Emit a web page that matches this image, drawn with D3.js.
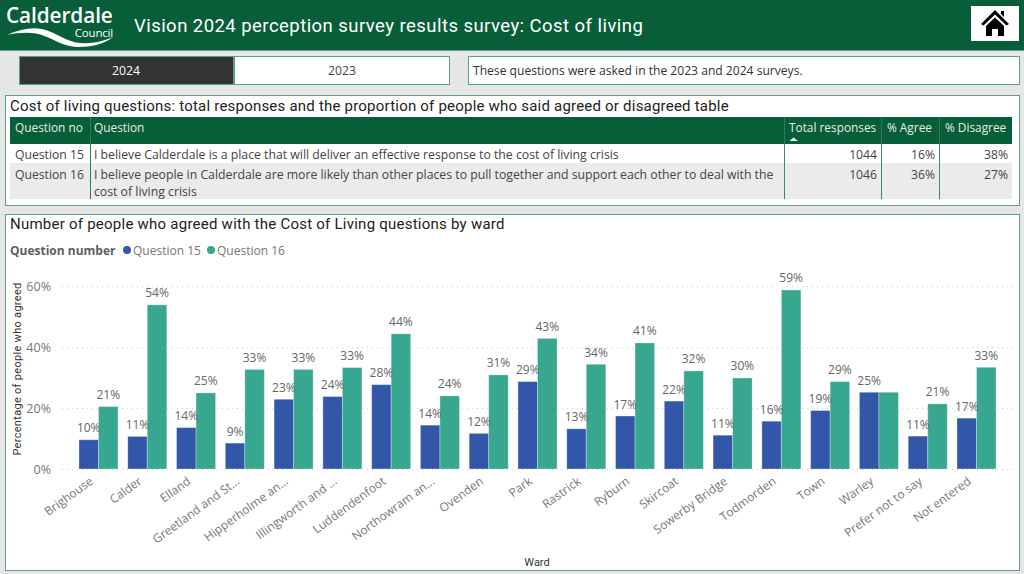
<!DOCTYPE html>
<html>
<head>
<meta charset="utf-8">
<script src="https://cdn.jsdelivr.net/npm/d3@7"></script>
<style>
  html, body { margin: 0; padding: 0; background: #e6e6e6; overflow: hidden; }
  svg { display: block; }
  text { font-family: "Open Sans", sans-serif; }
  .din { font-family: Roboto, sans-serif; }
</style>
</head>
<body>
<svg id="canvas"></svg>
<script>
let wards = ["Brighouse", "Calder", "Elland", "Greetland and St...", "Hipperholme an...", "Illingworth and ...",
    "Luddendenfoot", "Northowram an...", "Ovenden", "Park", "Rastrick", "Ryburn", "Skircoat", "Sowerby Bridge",
    "Todmorden", "Town", "Warley", "Prefer not to say", "Not entered"];
let question15 = [9.6, 10.7, 13.6, 8.5, 22.9, 23.8, 27.7, 14.4, 11.7, 28.7, 13.2, 17.4, 22.3, 11.1, 15.7, 19.2, 25.2, 10.8, 16.7];
let question16 = [20.5, 53.9, 25, 32.7, 32.7, 33.3, 44.4, 24, 30.9, 42.9, 34.4, 41.4, 32.2, 29.9, 58.8, 28.7, 25.2, 21.4, 33.4];
let seriesNames = ["Question 15", "Question 16"];
let yTicks = [0, 20, 40, 60];

let tableColumns = ["Question no", "Question", "Total responses", "% Agree", "% Disagree"];
let questionNumbers = ["Question 15", "Question 16"];
let questionLines = [
    ["I believe Calderdale is a place that will deliver an effective response to the cost of living crisis"],
    ["I believe people in Calderdale are more likely than other places to pull together and support each other to deal with the", "cost of living crisis"]
];
let totalResponses = [1044, 1046];
let percentAgree = ["16%", "36%"];
let percentDisagree = ["38%", "27%"];

let width = 1024;
let height = 574;
let darkGreen = "#075e38";
let panelBorder = "#5f9e86";
let colors = ["#3257a8", "#37a78f"];

let canvas = d3.select("#canvas").attr("width", width).attr("height", height);

let box = (x, y, w, h, fill, stroke) => canvas.append("rect")
    .attr("x", x).attr("y", y).attr("width", w).attr("height", h)
    .attr("fill", fill).attr("stroke", stroke || "none");

let label = (x, y, str, size, fill, cls) => canvas.append("text")
    .attr("class", cls || null)
    .attr("x", x).attr("y", y)
    .attr("font-size", size).attr("fill", fill)
    .text(str);

let drawHeader = () => {
    box(0, 0, width, 50, darkGreen);
    box(0, 50, width, 1, panelBorder);

    // logo
    label(6, 22.5, "Calderdale", 20.8, "#fff").attr("font-weight", 600).attr("letter-spacing", -0.1);
    label(113, 37, "Council", 11.5, "#fff").attr("text-anchor", "end").attr("letter-spacing", -0.2);
    canvas.append("path")
        .attr("d", "M7 35 C20 29 32 27 42 29 C56 32 66 42 80 43 C92 44 104 41 113 37 C104 44 92 47 78 47 C62 47 50 36 36 33.5 C26 32 16 33 7 35 Z")
        .attr("fill", "#fff");

    label(134, 32, "Vision 2024 perception survey results survey: Cost of living", 18.5, "#fff", "din")
        .attr("letter-spacing", 0.45);

    // home button
    box(971, 6, 48, 35, "#fff");
    canvas.append("path")
        .attr("d", "M981 24 L995 10 L1009 24 L1006.5 25.5 L995 14.5 L983.5 25.5 Z M986 26 L995 17.5 L1004 26 L1004 36 L998 36 L998 29 L992 29 L992 36 L986 36 Z M1001 11 L1004 11 L1004 17 L1001 14 Z")
        .attr("fill", "#000");
};

let drawButtons = () => {
    box(19.5, 56.5, 214, 28, "#333", panelBorder);
    box(234.5, 56.5, 215, 28, "#fff", panelBorder);
    label(126, 75, "2024", 12.2, "#fff").attr("text-anchor", "middle");
    label(342, 75, "2023", 12.2, "#444").attr("text-anchor", "middle");
    box(468.5, 56.5, 551, 28, "#fff", panelBorder);
    label(473, 75, "These questions were asked in the 2023 and 2024 surveys.", 12.1, "#333");
};

let drawTable = () => {
    box(5.5, 95.5, 1014, 110, "#fff", panelBorder);
    label(10, 110.5, "Cost of living questions: total responses and the proportion of people who said agreed or disagreed table", 15, "#222", "din")
        .attr("letter-spacing", 0.21);

    box(10, 117, 1002, 27, darkGreen);
    box(10, 163, 1002, 36, "#ebebeb");

    let colStart = [15, 94, 789, 887, 945];
    tableColumns.forEach((c, i) => label(colStart[i], 132, c, 11.85, "#e4efe9"));
    canvas.append("path").attr("d", "M789.5 141 L793.5 137.5 L798 141 Z").attr("fill", "#fff");

    let dividers = [90.5, 784.5, 881.5, 939.5];
    dividers.forEach((x, i) => {
        canvas.append("line").attr("x1", x).attr("x2", x).attr("y1", 117).attr("y2", 144)
            .attr("stroke", "#2f7a59");
        canvas.append("line").attr("x1", x).attr("x2", x).attr("y1", 144).attr("y2", 199)
            .attr("stroke", i === 0 ? "#2f7a59" : "#3c8a6b");
    });

    let rowY = [159, 179];
    questionNumbers.forEach((q, i) => {
        label(15, rowY[i], q, 12.2, "#444");
        questionLines[i].forEach((line, j) => label(94, rowY[i] + j * 16.5, line, 12.25, "#444"));
        label(877, rowY[i], totalResponses[i], 12.2, "#444").attr("text-anchor", "end");
        label(935, rowY[i], percentAgree[i], 12.2, "#444").attr("text-anchor", "end");
        label(1008, rowY[i], percentDisagree[i], 12.2, "#444").attr("text-anchor", "end");
    });
};

let drawChart = () => {
    box(5.5, 214.5, 1014, 356, "#fff", panelBorder);
    label(10, 229, "Number of people who agreed with the Cost of Living questions by ward", 15, "#222", "din")
        .attr("letter-spacing", 0.24);

    // legend
    label(10, 255, "Question number", 12, "#605e5c").attr("font-weight", 700);
    let legendDot = [127, 211];
    seriesNames.forEach((name, i) => {
        canvas.append("circle").attr("cx", legendDot[i]).attr("cy", 250).attr("r", 4).attr("fill", colors[i]);
        label(legendDot[i] + 6, 255, name, 12, "#777");
    });

    let xScale = d3.scaleBand().domain(wards).range([74.1, 1000.9]).paddingInner(0.2).paddingOuter(0.1);
    let xSeries = d3.scaleBand().domain([0, 1]).range([0, xScale.bandwidth()]);
    let yScale = d3.scaleLinear().domain([0, 60]).range([469, 286.3]);

    // y axis and dotted grid
    let yAxis = d3.axisLeft(yScale).tickValues(yTicks).tickFormat((d) => d + "%").tickSize(0).tickPadding(0);
    let yGroup = canvas.append("g").attr("transform", "translate(51, 0)").call(yAxis);
    yGroup.select(".domain").remove();
    yGroup.selectAll("text").attr("font-size", 12.5).attr("fill", "#777").attr("font-family", "Open Sans");

    canvas.append("g").selectAll("line")
        .data(yTicks)
        .enter()
        .append("line")
        .attr("x1", 62).attr("x2", 1015)
        .attr("y1", (d) => yScale(d) + 0.5).attr("y2", (d) => yScale(d) + 0.5)
        .attr("stroke", "#ccc")
        .attr("stroke-dasharray", "1 4");

    // bars
    [question15, question16].forEach((values, s) => {
        canvas.append("g").selectAll("rect")
            .data(values)
            .enter()
            .append("rect")
            .attr("x", (d, i) => xScale(wards[i]) + xSeries(s))
            .attr("y", (d) => yScale(d))
            .attr("width", xSeries.bandwidth())
            .attr("height", (d) => yScale(0) - yScale(d))
            .attr("fill", colors[s])
            .attr("stroke", "rgba(255,255,255,0.3)");
    });

    // data labels, Warley's second label is hidden in the original
    [question15, question16].forEach((values, s) => {
        canvas.append("g").selectAll("text")
            .data(values.map((v, i) => ({ v: v, ward: wards[i] })).filter((d) => !(s === 1 && d.ward === "Warley")))
            .enter()
            .append("text")
            .attr("x", (d) => xScale(d.ward) + xSeries(s) + xSeries.bandwidth() / 2)
            .attr("y", (d) => yScale(d.v) - 7.5)
            .attr("text-anchor", "middle")
            .attr("font-size", 12)
            .attr("fill", "#666")
            .text((d) => Math.round(d.v) + "%");
    });

    // x axis
    let xAxis = d3.axisBottom(xScale).tickSize(0).tickPadding(0);
    let xGroup = canvas.append("g").attr("transform", "translate(0, 469)").call(xAxis);
    xGroup.select(".domain").remove();
    xGroup.selectAll("text")
        .attr("font-size", 12)
        .attr("font-family", "Open Sans")
        .attr("fill", "#777")
        .attr("text-anchor", "end")
        .attr("dy", 0)
        .attr("transform", "translate(-4.5, 14) rotate(-36)");

    label(537, 566, "Ward", 11, "#333", "din").attr("text-anchor", "middle");
    label(0, 0, "Percentage of people who agreed", 11, "#333", "din")
        .attr("text-anchor", "middle")
        .attr("letter-spacing", 0.3)
        .attr("transform", "translate(20.5, 369) rotate(-90)");
};

drawHeader();
drawButtons();
drawTable();
drawChart();
</script>
</body>
</html>
